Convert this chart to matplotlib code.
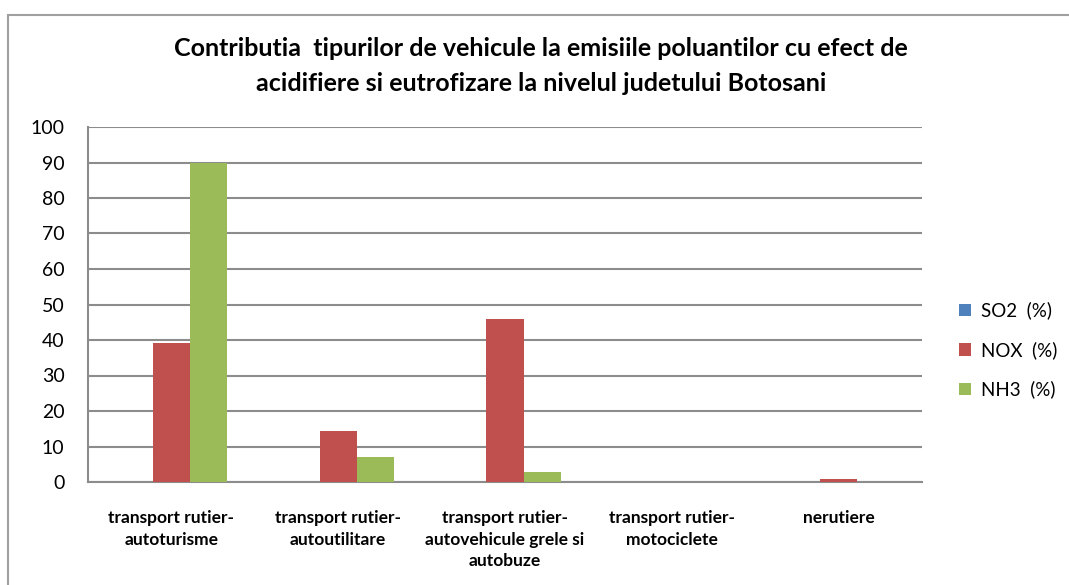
import numpy as np
from matplotlib import pyplot as plt
from matplotlib.patches import Rectangle

categorii = ['transport rutier-\nautoturisme',
             'transport rutier-\nautoutilitare',
             'transport rutier-\nautovehicule grele si\nautobuze',
             'transport rutier-\nmotociclete',
             'nerutiere']
so2 = [0, 0, 0, 0, 0]
nox = [39.2, 14.4, 45.9, 0, 0.8]
nh3 = [90, 7.0, 2.8, 0, 0]
serii = ['SO2  (%)', 'NOX  (%)', 'NH3  (%)']
culori = ['#4F81BD', '#C0504D', '#9BBB59']

plt.rcParams['font.family'] = ['Lato', 'DejaVu Sans']

fig = plt.figure(dpi=100, figsize=(10.69, 5.85))
ax = fig.add_axes([88/1069, 1-482/585, 834/1069, 355/585])

x = np.arange(len(categorii))
w = 0.222
bare = []
for k, (vals, c) in enumerate(zip([so2, nox, nh3], culori)):
    b = ax.bar(x + (k-1)*w, vals, w, color=c, zorder=3)
    bare.append(b)

ax.set_xlim(-0.5, len(categorii)-0.5)
ax.set_ylim(0, 100)
ax.set_yticks(range(0, 101, 10))
ax.yaxis.grid(True, color='#8c8c8c', linewidth=1.5, zorder=0)
ax.tick_params(axis='both', length=0)
ax.tick_params(axis='y', labelsize=14, pad=17)
ax.set_xticks(x)
ax.set_xticklabels(categorii, fontsize=12.5, fontweight='bold', linespacing=1.45, va='top')
ax.tick_params(axis='x', pad=20)
for s in ['top', 'right']:
    ax.spines[s].set_visible(False)
for s in ['left', 'bottom']:
    ax.spines[s].set_color('#8c8c8c')
    ax.spines[s].set_linewidth(1.5)

fig.text(541/1069, 1-66/585,
         'Contributia  tipurilor de vehicule la emisiile poluantilor cu efect de\n'
         'acidifiere si eutrofizare la nivelul judetului Botosani',
         ha='center', va='center', fontsize=18, fontweight='bold', linespacing=1.6)

leg = fig.legend([b[0] for b in bare], serii, loc='center left',
                 bbox_to_anchor=(942/1069, 1-350/585), frameon=False,
                 fontsize=13.5, labelspacing=1.15, handlelength=0.65,
                 handleheight=0.65, handletextpad=0.55)

fig.patches.append(Rectangle((8/1069, -0.05), 1.1, 1-15/585+0.05,
                             transform=fig.transFigure, fill=False,
                             edgecolor='#a0a0a0', linewidth=1.5))

fig.savefig('out.png')
